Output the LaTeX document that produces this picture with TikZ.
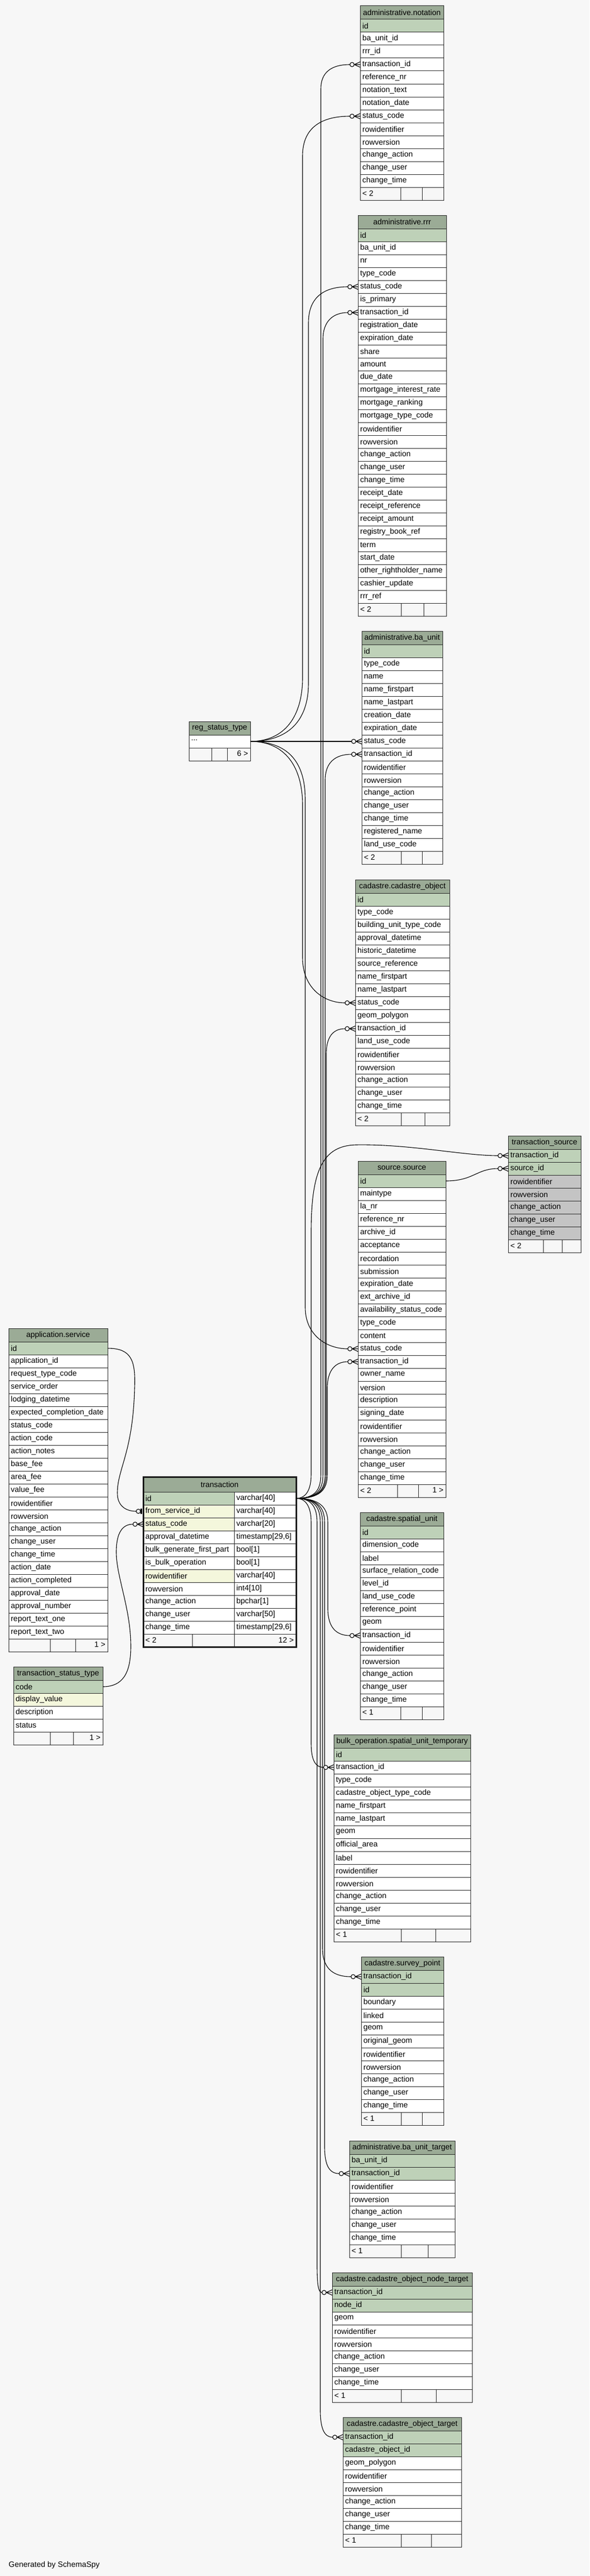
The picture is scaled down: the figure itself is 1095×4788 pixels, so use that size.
\documentclass[tikz,border=0pt]{standalone}
\usepackage{fontspec}
\setmainfont{Liberation Sans}
\definecolor{bgc}{HTML}{F7F7F7}
\definecolor{hdr}{HTML}{9BAB96}
\definecolor{pk}{HTML}{BED1B8}
\definecolor{fk}{HTML}{F4F7DC}
\definecolor{nn}{HTML}{FFFFFF}
\definecolor{gr}{HTML}{C4C4C4}
\newcommand\tabfont{\fontsize{14.4}{16}\selectfont}
\tikzset{
  tline/.style={draw=black!85, line width=1pt},
  hdrbox/.style={tline, fill=hdr, minimum height=25pt, inner sep=0pt, outer sep=0pt, font=\tabfont},
  rowbox/.style={tline, minimum height=24pt, inner sep=0pt, outer sep=0pt},
  rowtxt/.style={anchor=west, inner sep=0pt, font=\tabfont},
  footbox/.style={tline, fill=bgc, minimum height=24pt, inner sep=0pt, outer sep=0pt},
  conn/.style={draw=black, line width=1.1pt},
}
\newcommand\erTable[6]{%
  \node[hdrbox, minimum width=#4] (#1-h) at ({#2+#4/2},{#3+12.5}) {#5};
  \foreach \rf/\rt [count=\i] in {#6} {%
    \node[rowbox, fill=\rf, minimum width=#4] (#1-\i) at ({#2+#4/2},{#3+25+24*\i-12}) {};
    \node[rowtxt] (#1-\i-t) at ({#2+4},{#3+25+24*\i-12}) {\rt};
  }%
}
\newcommand\erFoot[8]{%
  \node[footbox, minimum width=#4] (#1-f) at ({#2+#4/2},{#3+12}) {};
  \draw[tline] (#5,#3) -- (#5,{#3+24});
  \draw[tline] (#6,#3) -- (#6,{#3+24});
  \node[rowtxt] (#1-fl) at ({#2+4},{#3+11}) {#7};
  \node[rowtxt, anchor=east] (#1-fr) at ({#2+#4-4},{#3+11}) {#8};
}
\newcommand\crowend[1]{%
  \draw[conn] ([xshift=-11pt]#1.west) -- ([yshift=5pt]#1.west)
              ([xshift=-11pt]#1.west) -- (#1.west)
              ([xshift=-11pt]#1.west) -- ([yshift=-5pt]#1.west);
  \draw[conn, fill=bgc] ([xshift=-15pt]#1.west) circle (4pt);
}
\newcommand\barend[1]{%
  \fill[black] ([xshift=-5pt,yshift=-5pt]#1.west) rectangle ([xshift=-2pt,yshift=5pt]#1.west);
  \draw[conn, fill=bgc] ([xshift=-9pt]#1.west) circle (4pt);
}
\catcode`\_=12
\begin{document}
\begin{tikzpicture}[x=1pt,y=-1pt]
\fill[bgc] (0,0) rectangle (1095,4788);
\useasboundingbox (0,0) rectangle (1095,4788);

% ---------------- tables ----------------
\erTable{ntn}{669}{11}{155}{administrative.notation}{pk/id,nn/ba_unit_id,nn/rrr_id,nn/transaction_id,nn/reference_nr,nn/notation_text,nn/notation_date,nn/status_code,nn/rowidentifier,nn/rowversion,nn/change_action,nn/change_user,nn/change_time}
\erFoot{ntn}{669}{348}{155}{744}{784}{< 2}{}

\erTable{rrr}{665}{400}{164}{administrative.rrr}{pk/id,nn/ba_unit_id,nn/nr,nn/type_code,nn/status_code,nn/is_primary,nn/transaction_id,nn/registration_date,nn/expiration_date,nn/share,nn/amount,nn/due_date,nn/mortgage_interest_rate,nn/mortgage_ranking,nn/mortgage_type_code,nn/rowidentifier,nn/rowversion,nn/change_action,nn/change_user,nn/change_time,nn/receipt_date,nn/receipt_reference,nn/receipt_amount,nn/registry_book_ref,nn/term,nn/start_date,nn/other_rightholder_name,nn/cashier_update,nn/rrr_ref}
\erFoot{rrr}{665}{1121}{164}{745}{787}{< 2}{}

% reg_status_type (drawn by hand)
\node[hdrbox, minimum width=114pt] (rst-h) at (408,1353.5) {reg_status_type};
\node[rowbox, fill=nn, minimum width=114pt] (rst-1) at (408,1378) {};
\node[rowtxt] (rst-1-t) at (355,1376) {.{}.{}.};
\erFoot{rst}{351}{1390}{114}{393}{422}{}{6 >}

\erTable{bau}{672}{1173}{150}{administrative.ba_unit}{pk/id,nn/type_code,nn/name,nn/name_firstpart,nn/name_lastpart,nn/creation_date,nn/expiration_date,nn/status_code,nn/transaction_id,nn/rowidentifier,nn/rowversion,nn/change_action,nn/change_user,nn/change_time,nn/registered_name,nn/land_use_code}
\erFoot{bau}{672}{1582}{150}{745}{784}{< 2}{}

\erTable{cad}{660}{1635}{175}{cadastre.cadastre_object}{pk/id,nn/type_code,nn/building_unit_type_code,nn/approval_datetime,nn/historic_datetime,nn/source_reference,nn/name_firstpart,nn/name_lastpart,nn/status_code,nn/geom_polygon,nn/transaction_id,nn/land_use_code,nn/rowidentifier,nn/rowversion,nn/change_action,nn/change_user,nn/change_time}
\erFoot{cad}{660}{2068}{175}{745}{789}{< 2}{}

\erTable{tsr}{944}{2111}{135}{transaction_source}{pk/transaction_id,pk/source_id,gr/rowidentifier,gr/rowversion,gr/change_action,gr/change_user,gr/change_time}
\erFoot{tsr}{944}{2304}{135}{1009}{1044}{< 2}{}

\erTable{src}{665}{2158}{163}{source.source}{pk/id,nn/maintype,nn/la_nr,nn/reference_nr,nn/archive_id,nn/acceptance,nn/recordation,nn/submission,nn/expiration_date,nn/ext_archive_id,nn/availability_status_code,nn/type_code,nn/content,nn/status_code,nn/transaction_id,nn/owner_name,nn/version,nn/description,nn/signing_date,nn/rowidentifier,nn/rowversion,nn/change_action,nn/change_user,nn/change_time}
\erFoot{src}{665}{2759}{163}{738}{777}{< 2}{1 >}

\erTable{app}{16}{2469}{184}{application.service}{pk/id,nn/application_id,nn/request_type_code,nn/service_order,nn/lodging_datetime,nn/expected_completion_date,nn/status_code,nn/action_code,nn/action_notes,nn/base_fee,nn/area_fee,nn/value_fee,nn/rowidentifier,nn/rowversion,nn/change_action,nn/change_user,nn/change_time,nn/action_date,nn/action_completed,nn/approval_date,nn/approval_number,nn/report_text_one,nn/report_text_two}
\erFoot{app}{16}{3046}{184}{93}{140}{}{1 >}

\erTable{tst}{25}{3098}{166}{transaction_status_type}{pk/code,fk/display_value,nn/description,nn/status}
\erFoot{tst}{25}{3219}{166}{93}{136}{}{1 >}

\erTable{spu}{669}{2811}{155}{cadastre.spatial_unit}{pk/id,nn/dimension_code,nn/label,nn/surface_relation_code,nn/level_id,nn/land_use_code,nn/reference_point,nn/geom,nn/transaction_id,nn/rowidentifier,nn/rowversion,nn/change_action,nn/change_user,nn/change_time}
\erFoot{spu}{669}{3172}{155}{744}{784}{< 1}{}

\erTable{bop}{620}{3224}{254}{bulk_operation.spatial_unit_temporary}{pk/id,nn/transaction_id,nn/type_code,nn/cadastre_object_type_code,nn/name_firstpart,nn/name_lastpart,nn/geom,nn/official_area,nn/label,nn/rowidentifier,nn/rowversion,nn/change_action,nn/change_user,nn/change_time}
\erFoot{bop}{620}{3585}{254}{745}{809}{< 1}{}

\erTable{svp}{671}{3637}{153}{cadastre.survey_point}{pk/transaction_id,pk/id,nn/boundary,nn/linked,nn/geom,nn/original_geom,nn/rowidentifier,nn/rowversion,nn/change_action,nn/change_user,nn/change_time}
\erFoot{svp}{671}{3926}{153}{745}{784}{< 1}{}

\erTable{but}{649}{3979}{196}{administrative.ba_unit_target}{pk/ba_unit_id,pk/transaction_id,nn/rowidentifier,nn/rowversion,nn/change_action,nn/change_user,nn/change_time}
\erFoot{but}{649}{4172}{196}{745}{795}{< 1}{}

\erTable{cnt}{617}{4224}{260}{cadastre.cadastre_object_node_target}{pk/transaction_id,pk/node_id,nn/geom,nn/rowidentifier,nn/rowversion,nn/change_action,nn/change_user,nn/change_time}
\erFoot{cnt}{617}{4441}{260}{745}{810}{< 1}{}

\erTable{cot}{637}{4493}{220}{cadastre.cadastre_object_target}{pk/transaction_id,pk/cadastre_object_id,nn/geom_polygon,nn/rowidentifier,nn/rowversion,nn/change_action,nn/change_user,nn/change_time}
\erFoot{cot}{637}{4710}{220}{745}{801}{< 1}{}

% transaction (focus table, two columns)
\node[hdrbox, minimum width=284pt, minimum height=28pt] (trn-h) at (408,2759) {transaction};
\foreach \rf/\rn/\rty [count=\i] in {pk/id/varchar[40],fk/from_service_id/varchar[40],fk/status_code/varchar[20],nn/approval_datetime/{timestamp[29,6]},nn/bulk_generate_first_part/bool[1],nn/is_bulk_operation/bool[1],fk/rowidentifier/varchar[40],nn/rowversion/int4[10],nn/change_action/bpchar[1],nn/change_user/varchar[50],nn/change_time/{timestamp[29,6]}} {%
  \node[rowbox, fill=\rf, minimum width=169pt] (trn-\i) at (350.5,{2773+24*\i-12}) {};
  \node[rowbox, fill=nn, minimum width=115pt] (trn-\i-ty) at (492.5,{2773+24*\i-12}) {};
  \node[rowtxt] (trn-\i-t) at (270,{2773+24*\i-12}) {\rn};
  \node[rowtxt] (trn-\i-tt) at (439,{2773+24*\i-12}) {\rty};
}
\node[footbox, minimum width=284pt] (trn-f) at (408,3049) {};
\draw[tline] (357,3037) -- (357,3061);
\draw[tline] (435,3037) -- (435,3061);
\node[rowtxt] (trn-fl) at (270,3048) {< 2};
\node[rowtxt, anchor=east] (trn-fr) at (546,3048) {12 >};
\draw[line width=3pt, black!90] (266,2745) rectangle (550,3061);

% ---------------- connectors ----------------
% transaction.id fan, upward
\draw[conn] (trn-1-ty.east) .. controls (585,2785) and (596,2770) .. (596,2740) -- (596,165) .. controls (596,135) and (615,120) .. ([xshift=-19pt]ntn-4.west);
\draw[conn] (trn-1-ty.east) .. controls (588,2785) and (600,2770) .. (600,2740) -- (600,630) .. controls (600,598) and (618,581) .. ([xshift=-19pt]rrr-7.west);
\draw[conn] (trn-1-ty.east) .. controls (590,2785) and (604,2770) .. (604,2740) -- (604,1450) .. controls (604,1418) and (622,1402) .. ([xshift=-19pt]bau-9.west);
\draw[conn] (trn-1-ty.east) .. controls (592,2785) and (606,2770) .. (606,2740) -- (606,1960) .. controls (606,1928) and (618,1912) .. ([xshift=-19pt]cad-11.west);
\draw[conn] (trn-1-ty.east) .. controls (594,2785) and (608,2770) .. (608,2740) -- (608,2580) .. controls (608,2548) and (622,2531) .. ([xshift=-19pt]src-15.west);
\draw[conn] (trn-1-ty.east) .. controls (568,2785) and (578,2770) .. (578,2740) -- (578,2290) .. controls (578,2175) and (600,2130) .. (660,2128) .. controls (760,2126) and (860,2148) .. ([xshift=-19pt]tsr-1.west);
% transaction.id fan, downward
\draw[conn] (trn-1-ty.east) .. controls (592,2785) and (609,2800) .. (609,2830) -- (609,2990) .. controls (609,3025) and (625,3040) .. ([xshift=-19pt]spu-9.west);
\draw[conn] (trn-1-ty.east) .. controls (568,2785) and (578,2800) .. (578,2830) -- (578,3240) .. controls (578,3270) and (585,3285) .. ([xshift=-19pt]bop-2.west);
\draw[conn] (trn-1-ty.east) .. controls (586,2785) and (599,2800) .. (599,2830) -- (599,3620) .. controls (599,3655) and (615,3674) .. ([xshift=-19pt]svp-1.west);
\draw[conn] (trn-1-ty.east) .. controls (588,2785) and (603,2800) .. (603,2830) -- (603,3990) .. controls (603,4025) and (612,4040) .. ([xshift=-19pt]but-2.west);
\draw[conn] (trn-1-ty.east) .. controls (578,2785) and (589,2800) .. (589,2830) -- (589,4210) .. controls (589,4245) and (591,4261) .. ([xshift=-19pt]cnt-1.west);
\draw[conn] (trn-1-ty.east) .. controls (582,2785) and (595,2800) .. (595,2830) -- (595,4480) .. controls (595,4515) and (603,4530) .. ([xshift=-19pt]cot-1.west);

% reg_status_type fan
\draw[conn] (rst-1.east) .. controls (530,1378) and (562,1330) .. (562,1260) -- (562,290) .. controls (562,235) and (600,216) .. ([xshift=-19pt]ntn-8.west);
\draw[conn] (rst-1.east) .. controls (535,1378) and (573,1340) .. (573,1270) -- (573,600) .. controls (573,550) and (605,533) .. ([xshift=-19pt]rrr-5.west);
\draw[conn] (rst-1.east) -- ([xshift=-19pt]bau-8.west);
\draw[conn] (rst-1.east) .. controls (530,1378) and (562,1426) .. (562,1496) -- (562,1780) .. controls (562,1835) and (600,1864) .. ([xshift=-19pt]cad-9.west);
\draw[conn] (rst-1.east) .. controls (535,1378) and (567,1416) .. (567,1486) -- (567,2430) .. controls (567,2480) and (605,2507) .. ([xshift=-19pt]src-14.west);

% source.id -> transaction_source.source_id
\draw[conn] (src-1.east) .. controls (880,2195) and (885,2172) .. ([xshift=-19pt]tsr-2.west);

% application.service.id -> transaction.from_service_id
\draw[conn] (app-1.east) .. controls (245,2506) and (252,2530) .. (250,2580) .. controls (247,2700) and (218,2730) .. (218,2775) .. controls (218,2800) and (235,2809) .. ([xshift=-13pt]trn-2.west);

% transaction_status_type.code -> transaction.status_code
\draw[conn] (tst-1.east) .. controls (228,3135) and (243,3110) .. (243,3060) .. controls (243,2990) and (216,2930) .. (216,2885) .. controls (216,2848) and (228,2833) .. ([xshift=-19pt]trn-3.west);

% ends
\crowend{ntn-4}\crowend{ntn-8}
\crowend{rrr-5}\crowend{rrr-7}
\crowend{bau-8}\crowend{bau-9}
\crowend{cad-9}\crowend{cad-11}
\crowend{tsr-1}\crowend{tsr-2}
\crowend{src-14}\crowend{src-15}
\crowend{spu-9}\crowend{bop-2}\crowend{svp-1}\crowend{but-2}\crowend{cnt-1}\crowend{cot-1}
\crowend{trn-3}
\barend{trn-2}

\node[rowtxt] (gen) at (16,4768) {Generated by SchemaSpy};
\end{tikzpicture}
\end{document}
